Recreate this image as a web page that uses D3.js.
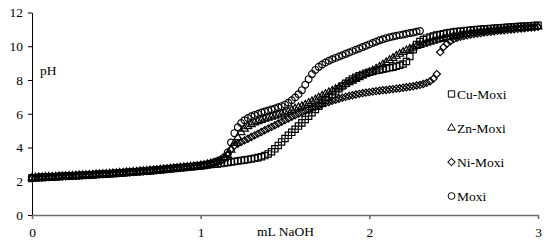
<!DOCTYPE html>
<html><head><meta charset="utf-8">
<script src="https://cdn.jsdelivr.net/npm/d3@7"></script>
<style>
body{margin:0;background:#fff}
svg{display:block}
text{font-family:"Liberation Serif","Times New Roman",serif;fill:#000}
</style>
</head><body>
<svg id="chart" width="550" height="244"></svg>
<script>
// ---- data ----
const volumeStep = 0.02;              // mL NaOH between readings
const xTicks = [0, 1, 2, 3];
const yTicks = [0, 2, 4, 6, 8, 10, 12];
const xLabel = "mL NaOH";
const yLabel = "pH";
const seriesNames = ["Cu-Moxi", "Zn-Moxi", "Ni-Moxi", "Moxi"];

// 0.00 - 0.98 mL: the four curves overlap completely
const earlyPH = [
  2.20,2.21,2.22,2.23,2.24,2.25,2.26,2.27,2.28,2.29,
  2.30,2.31,2.32,2.33,2.34,2.35,2.36,2.37,2.38,2.40,
  2.41,2.42,2.43,2.45,2.46,2.47,2.49,2.50,2.52,2.53,
  2.55,2.56,2.58,2.59,2.61,2.63,2.64,2.66,2.68,2.70,
  2.72,2.74,2.76,2.78,2.80,2.82,2.84,2.86,2.88,2.90
];
// from 1.00 mL on
const cuPH = [
  2.91,2.94,2.97,2.99,3.01,3.03,3.05,3.08,3.11,3.14,
  3.17,3.20,3.23,3.26,3.29,3.32,3.36,3.40,3.45,3.52,
  3.62,3.75,3.92,4.12,4.33,4.53,4.72,4.90,5.08,5.27,
  5.46,5.66,5.86,6.06,6.26,6.45,6.63,6.80,6.97,7.14,
  7.31,7.48,7.64,7.80,7.94,8.06,8.16,8.25,8.33,8.40,
  8.46,8.51,8.56,8.60,8.64,8.68,8.72,8.76,8.81,8.87,
  8.95,9.10,9.40,9.80,10.10,10.28,10.40,10.48,10.55,10.61,
  10.66,10.70,10.74,10.78,10.81,10.84,10.87,10.89,10.91,10.93,
  10.95,10.97,10.99,11.00,11.02,11.04,11.05,11.07,11.08,11.10,
  11.11,11.13,11.14,11.15,11.17,11.18,11.19,11.20,11.22,11.23,
  11.24
];
const znPH = [
  2.93,2.96,3.00,3.04,3.09,3.15,3.23,3.35,3.55,3.85,
  4.25,4.60,4.90,5.10,5.25,5.37,5.47,5.55,5.62,5.69,
  5.75,5.81,5.87,5.93,5.99,6.06,6.13,6.21,6.30,6.37,
  6.44,6.53,6.63,6.73,6.84,6.95,7.06,7.16,7.26,7.36,
  7.45,7.55,7.65,7.75,7.85,7.95,8.05,8.15,8.25,8.35,
  8.45,8.55,8.66,8.78,8.91,9.04,9.17,9.30,9.42,9.54,
  9.65,9.75,9.84,9.92,10.00,10.07,10.14,10.20,10.26,10.32,
  10.37,10.42,10.47,10.52,10.56,10.60,10.64,10.68,10.71,10.74,
  10.77,10.80,10.83,10.85,10.88,10.90,10.92,10.94,10.96,10.98,
  11.00,11.02,11.04,11.05,11.07,11.08,11.10,11.11,11.13,11.14,
  11.16
];
const niPH = [
  2.92,2.95,2.99,3.03,3.08,3.14,3.22,3.35,3.60,3.90,
  4.12,4.22,4.32,4.42,4.52,4.62,4.72,4.82,4.92,5.02,
  5.12,5.22,5.32,5.42,5.52,5.62,5.72,5.82,5.91,6.00,
  6.09,6.17,6.25,6.33,6.41,6.49,6.56,6.63,6.70,6.77,
  6.83,6.89,6.95,7.00,7.05,7.10,7.14,7.18,7.22,7.25,
  7.28,7.31,7.34,7.36,7.39,7.41,7.44,7.46,7.49,7.51,
  7.54,7.57,7.60,7.63,7.67,7.71,7.76,7.83,7.93,8.08,
  8.35,9.65,9.95,10.15,10.30,10.42,10.50,10.56,10.61,10.65,
  10.69,10.72,10.75,10.78,10.81,10.84,10.86,10.89,10.91,10.93,
  10.95,10.97,10.99,11.01,11.03,11.05,11.07,11.09,11.11,11.13,
  11.15
];
const moxiPH = [
  2.93,2.97,3.01,3.06,3.12,3.19,3.28,3.42,3.70,4.30,
  4.85,5.20,5.45,5.62,5.75,5.85,5.93,6.00,6.07,6.13,
  6.19,6.25,6.31,6.38,6.45,6.54,6.65,6.80,6.96,7.16,
  7.40,7.72,8.05,8.35,8.60,8.78,8.92,9.04,9.14,9.23,
  9.31,9.39,9.47,9.55,9.63,9.71,9.79,9.87,9.95,10.03,
  10.11,10.19,10.27,10.35,10.42,10.48,10.53,10.58,10.62,10.66,
  10.70,10.74,10.78,10.82,10.86,10.90
];

// ---- chart ----
const svg = d3.select("#chart");
const x = d3.scaleLinear().domain([0, 3]).range([32, 538]);
const y = d3.scaleLinear().domain([0, 12]).range([215, 12.5]);

const shapes = {
  "Cu-Moxi": {type: d3.symbolSquare, size: 40, rot: 0},
  "Zn-Moxi": {type: d3.symbolTriangle, size: 26, rot: 0},
  "Ni-Moxi": {type: d3.symbolSquare, size: 26, rot: 45},
  "Moxi":    {type: d3.symbolCircle, size: 36, rot: 0}
};
const tails = {"Cu-Moxi": cuPH, "Zn-Moxi": znPH, "Ni-Moxi": niPH, "Moxi": moxiPH};

const series = seriesNames.map(name => {
  const vals = earlyPH.concat(tails[name]);
  return {name, points: vals.map((v, i) => ({v: +(i * volumeStep).toFixed(2), ph: v}))};
});

// axes
const yAxis = svg.append("g").attr("transform", "translate(32,0)")
  .call(d3.axisLeft(y).tickValues(yTicks).tickSize(4).tickSizeOuter(0).tickPadding(5));
yAxis.attr("font-family", null).attr("font-size", null);
yAxis.selectAll("text").style("font-size", "13.5px");
yAxis.selectAll("line,path").attr("stroke", "#000").attr("stroke-width", 1);

const xAxis = svg.append("g").attr("transform", "translate(0,215)")
  .call(d3.axisBottom(x).tickValues(xTicks).tickFormat(d3.format("d")).tickSize(4).tickSizeOuter(0).tickPadding(8));
xAxis.attr("font-family", null).attr("font-size", null);
xAxis.selectAll("text").style("font-size", "13.5px");
xAxis.selectAll("line,path").attr("stroke", "#6e6e6e").attr("stroke-width", 1.6);

// series markers
series.forEach(s => {
  const sh = shapes[s.name];
  const sym = d3.symbol().type(sh.type).size(sh.size);
  svg.append("g").selectAll("path").data(s.points).join("path")
    .attr("d", sym)
    .attr("transform", d => `translate(${x(d.v)},${y(d.ph)}) rotate(${sh.rot})`)
    .attr("fill", "none").attr("stroke", "#000").attr("stroke-width", 1.2);
});

// axis titles
svg.append("text").attr("x", 40).attr("y", 75).style("font-size", "13.5px").text(yLabel);
svg.append("text").attr("x", 285.5).attr("y", 236).attr("text-anchor", "middle").style("font-size", "13.5px").text(xLabel);

// legend
const legY = [94, 128, 162, 196];
const leg = svg.append("g");
seriesNames.forEach((name, i) => {
  const sh = shapes[name];
  leg.append("path").attr("d", d3.symbol().type(sh.type).size(sh.size)())
    .attr("transform", `translate(451.5,${legY[i]}) rotate(${sh.rot})`)
    .attr("fill", "none").attr("stroke", "#000").attr("stroke-width", 1);
  leg.append("text").attr("x", 457).attr("y", legY[i]).attr("dy", "0.35em")
    .style("font-size", "13.5px").text(name);
});
</script>
</body></html>
